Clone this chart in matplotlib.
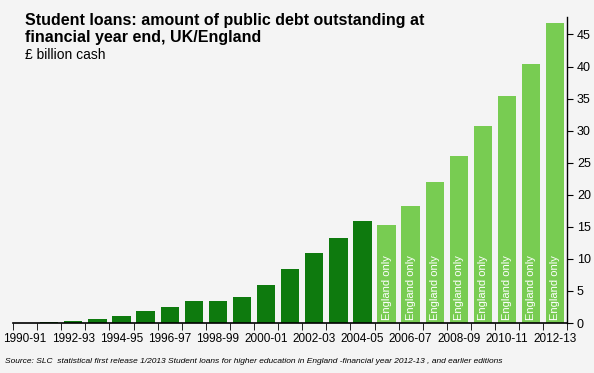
import numpy as np
import matplotlib.pyplot as plt

plt.rcParams['font.family'] = ['Liberation Sans', 'DejaVu Sans']

years = ['1990-91', '1991-92', '1992-93', '1993-94', '1994-95', '1995-96',
         '1996-97', '1997-98', '1998-99', '1999-00', '2000-01', '2001-02',
         '2002-03', '2003-04', '2004-05', '2005-06', '2006-07', '2007-08',
         '2008-09', '2009-10', '2010-11', '2011-12', '2012-13']
debt = [0.05, 0.15, 0.3, 0.6, 1.05, 1.8, 2.5, 3.5, 3.5, 4.0, 6.0, 8.4,
        10.85, 13.3, 15.9, 15.3, 18.2, 22.0, 26.1, 30.7, 35.4, 40.4, 46.8]
england_only = [False] * 15 + [True] * 8

dark = '#0e7a0e'
light = '#78cc52'
bg = '#f4f4f4'

fig = plt.figure(figsize=(5.94, 3.73), dpi=100, facecolor=bg)
ax = fig.add_axes([0.022, 0.134, 0.933, 0.82], facecolor=bg)

x = np.arange(len(years))
colors = [light if e else dark for e in england_only]
ax.bar(x, debt, width=0.76, color=colors)

for xi, e in zip(x, england_only):
    if e:
        ax.text(xi, 0.5, 'England only', rotation=90, color='white',
                ha='center', va='bottom', fontsize=8)

ax.set_xlim(-0.5, len(years) - 0.5)
ax.set_ylim(0, 47.7)

ax.yaxis.tick_right()
ax.set_yticks(range(0, 50, 5))
ax.tick_params(axis='y', direction='out', length=4, labelsize=9, pad=3)

ax.set_xticks(x[::2])
ax.set_xticklabels(years[::2])
ax.set_xticks(np.arange(-0.5, len(years)), minor=True)
ax.tick_params(axis='x', which='major', length=0, labelsize=8.5, pad=7)
ax.tick_params(axis='x', which='minor', length=5, direction='out')

for s in ['left', 'top']:
    ax.spines[s].set_visible(False)
ax.spines['bottom'].set_linewidth(1.2)
ax.spines['right'].set_linewidth(1.0)

fig.text(0.042, 0.965, 'Student loans: amount of public debt outstanding at\nfinancial year end, UK/England',
         fontsize=11.5, fontweight='bold', va='top', linespacing=1.15)
fig.text(0.042, 0.872, '£ billion cash', fontsize=10, va='top')
fig.text(0.008, 0.03, 'Source: SLC  statistical first release 1/2013 Student loans for higher education in England '
         '-financial year 2012-13 , and earlier editions',
         fontsize=6, style='italic', va='center')

fig.savefig('out.png', dpi=100, facecolor=bg)
